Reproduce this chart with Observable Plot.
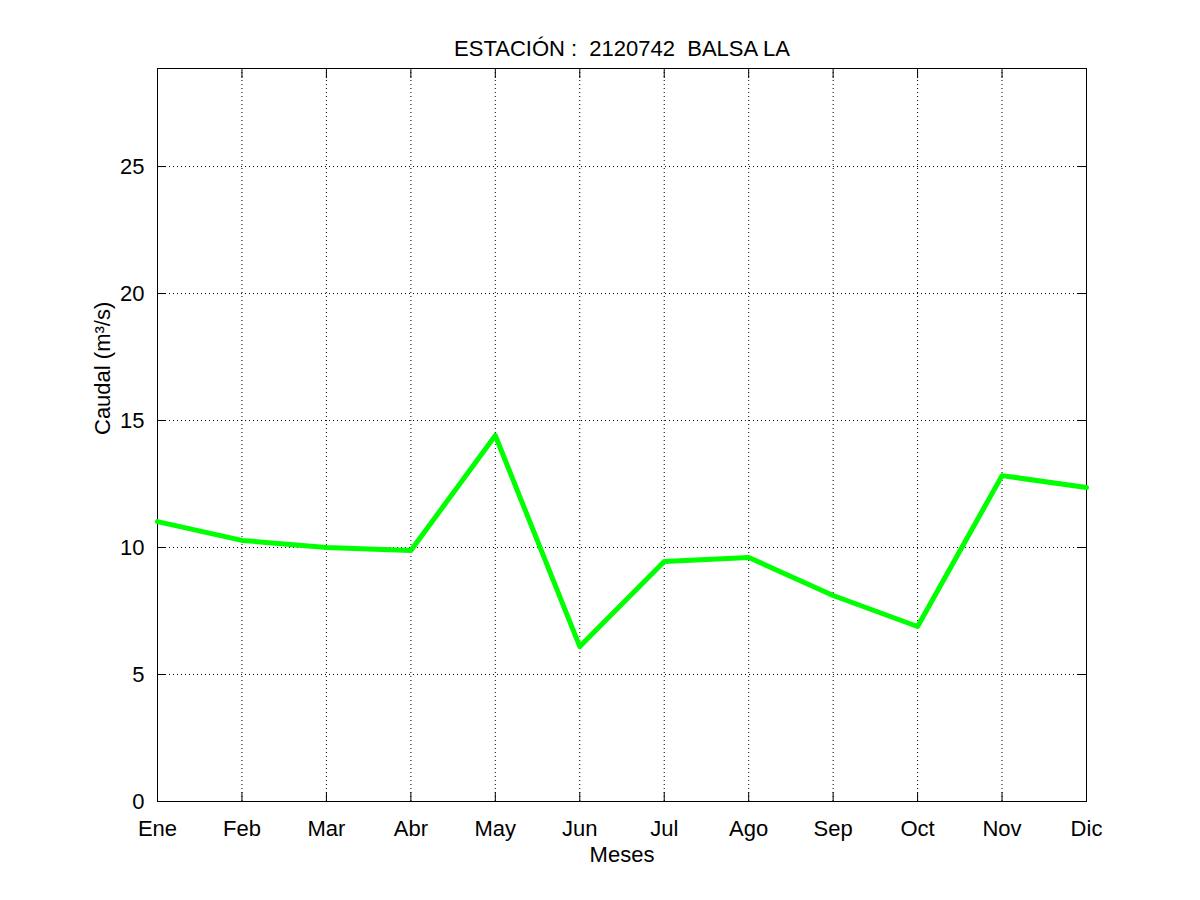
<!DOCTYPE html>
<html><head><meta charset="utf-8">
<script src="https://cdn.jsdelivr.net/npm/d3@7"></script>
<script src="https://cdn.jsdelivr.net/npm/@observablehq/plot@0.6"></script>
<style>body{margin:0;background:#fff}svg{font-family:"Liberation Sans",Arial,sans-serif}</style>
</head><body><div id="c"></div>
<script>
const months = ["Ene","Feb","Mar","Abr","May","Jun","Jul","Ago","Sep","Oct","Nov","Dic"];
const caudal = [11.02,10.28,10.0,9.88,14.41,6.10,9.45,9.61,8.11,6.89,12.83,12.36];
const yTicks = [0,5,10,15,20,25];
const data = months.map((m,i)=>({i, m, v: caudal[i]}));
const fs = 22;
const blank = () => "";
const chart = Plot.plot({
  width: 1200, height: 900,
  marginTop: 68, marginBottom: 99, marginLeft: 157, marginRight: 114,
  style: {fontSize: fs+"px", fontFamily: '"Liberation Sans",Arial,sans-serif', color: "#000"},
  x: {domain: [0,11], ticks: d3.range(12), tickFormat: i => months[i]},
  y: {domain: [0,28.86], ticks: yTicks},
  marks: [
    Plot.gridX(d3.range(1,11), {stroke:"#000", strokeOpacity:1, strokeDasharray:"1,3"}),
    Plot.gridY(yTicks.slice(1), {stroke:"#000", strokeOpacity:1, strokeDasharray:"1,3"}),
    Plot.axisX({ticks: d3.range(12), tickFormat: i => months[i], tickSize: -9, tickPadding: 28, label: null, fontSize: fs}),
    Plot.axisX({anchor:"top", ticks: d3.range(12), tickFormat: blank, tickSize: -9, label: null}),
    Plot.axisY({ticks: yTicks, tickSize: -9, tickPadding: 22, label: null, fontSize: fs}),
    Plot.axisY({anchor:"right", ticks: yTicks, tickFormat: blank, tickSize: -9, label: null}),
    Plot.frame({stroke:"#000"}),
    Plot.line(data, {x:"i", y:"v", stroke:"#00ff00", strokeWidth:5}),
    Plot.text(["ESTACIÓN :  2120742  BALSA LA"], {frameAnchor:"top", dy:-28, fontSize:fs, fill:"#000"}),
    Plot.text(["Meses"], {frameAnchor:"bottom", dy:60, fontSize:fs, fill:"#000"}),
    Plot.text(["Caudal (m³/s)"], {frameAnchor:"left", dx:-55, rotate:-90, fontSize:fs, fill:"#000"})
  ]
});
document.getElementById("c").append(chart);
</script></body></html>
